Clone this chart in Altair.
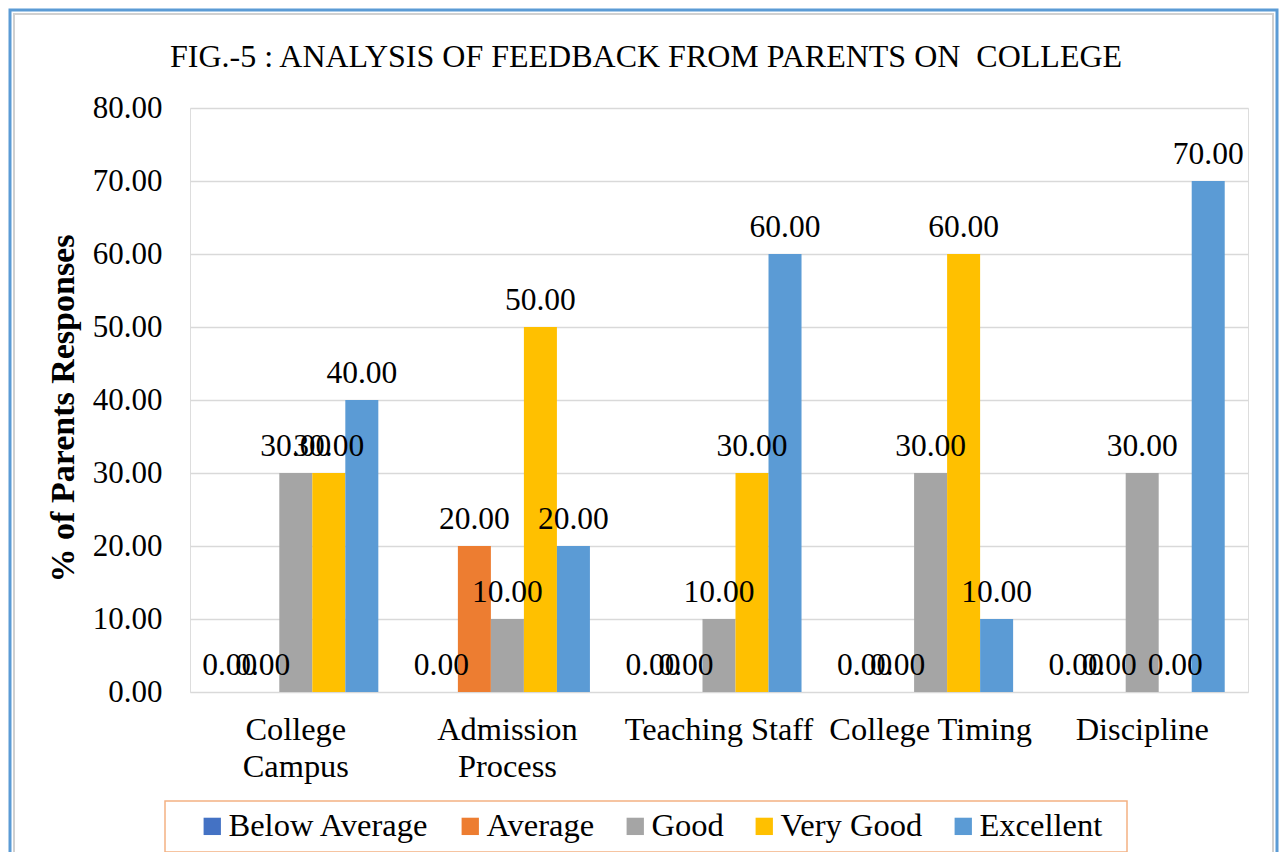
import altair as alt
import pandas as pd

categories = ["College Campus", "Admission Process", "Teaching Staff", "College Timing", "Discipline"]
series = ["Below Average", "Average", "Good", "Very Good", "Excellent"]
below_average = [0, 0, 0, 0, 0]
average = [0, 20, 0, 0, 0]
good = [30, 10, 10, 30, 30]
very_good = [30, 50, 30, 60, 0]
excellent = [40, 20, 60, 10, 70]
colors = ["#4472C4", "#ED7D31", "#A5A5A5", "#FFC000", "#5B9BD5"]
y_ticks = [0, 10, 20, 30, 40, 50, 60, 70, 80]
title_text = "FIG.-5 : ANALYSIS OF FEEDBACK FROM PARENTS ON \u00a0COLLEGE"

rows = []
for name, vals in zip(series, [below_average, average, good, very_good, excellent]):
    for c, v in zip(categories, vals):
        rows.append({"category": c, "series": name, "value": v})
df = pd.DataFrame(rows)

FONT = "Liberation Serif"

x_enc = alt.X(
    "category:N",
    sort=categories,
    scale=alt.Scale(paddingInner=0.22, paddingOuter=0.11),
    axis=alt.Axis(
        title=None,
        labelFont=FONT,
        labelFontSize=32.4,
        labelColor="black",
        labelAngle=0,
        labelPadding=21,
        labelLineHeight=37,
        labelLimit=400,
        labelExpr="datum.label == 'College Campus' ? ['College', 'Campus'] : datum.label == 'Admission Process' ? ['Admission', 'Process'] : datum.label",
        domain=False,
        ticks=False,
        grid=False,
    ),
)
xoff = alt.XOffset("series:N", sort=series, scale=alt.Scale(paddingInner=0, paddingOuter=0))
y_enc = alt.Y(
    "value:Q",
    scale=alt.Scale(domain=[0, 80], nice=False),
    axis=alt.Axis(
        title="% of Parents Responses",
        titleFont=FONT,
        titleFontSize=34,
        titleFontWeight="bold",
        titleColor="black",
        titlePadding=12,
        titleY=300,
        values=y_ticks,
        format=".2f",
        labelFont=FONT,
        labelFontSize=31,
        labelColor="black",
        labelPadding=28,
        domain=False,
        ticks=False,
        grid=True,
        gridColor="#D9D9D9",
        gridWidth=1.5,
    ),
)

bars = alt.Chart(df).mark_bar().encode(
    x=x_enc,
    xOffset=xoff,
    y=y_enc,
    color=alt.Color(
        "series:N",
        sort=series,
        scale=alt.Scale(domain=series, range=colors),
        legend=alt.Legend(
            title=None,
            orient="none",
            legendX=6,
            legendY=702,
            direction="horizontal",
            padding=0,
            columnPadding=24,
            labelFont=FONT,
            labelFontSize=32.5,
            labelColor="black",
            labelOffset=0,
            labelLimit=400,
            symbolType="square",
            symbolSize=300,
            symbolStrokeWidth=0,
        ),
    ),
)

labels = alt.Chart(df).mark_text(
    font=FONT, fontSize=31.5, color="black", baseline="alphabetic", dy=-17
).encode(
    x=alt.X("category:N", sort=categories),
    xOffset=alt.XOffset("series:N", sort=series),
    y="value:Q",
    text=alt.Text("value:Q", format=".2f"),
)

frame_df = pd.DataFrame({"f": [0]})
outer = alt.Chart(frame_df).mark_rect(filled=False, stroke="#5B9BD5", strokeWidth=3).encode(
    x=alt.value(-180), x2=alt.value(1087), y=alt.value(-98), y2=alt.value(900)
)
inner = alt.Chart(frame_df).mark_rect(filled=False, stroke="#D0D0D0", strokeWidth=2).encode(
    x=alt.value(-176), x2=alt.value(1083), y=alt.value(-94), y2=alt.value(900)
)
legend_box = alt.Chart(frame_df).mark_rect(filled=False, stroke="#F4B183", strokeWidth=1.5).encode(
    x=alt.value(-25), x2=alt.value(937), y=alt.value(693), y2=alt.value(744)
)
title = alt.Chart(frame_df).mark_text(
    text=title_text, font=FONT, fontSize=32, color="black", align="center", baseline="alphabetic"
).encode(x=alt.value(456), y=alt.value(-41))

chart = alt.layer(outer, inner, legend_box, title, bars, labels).properties(
    width=1058,
    height=584,
    autosize=alt.AutoSizeParams(type="none"),
    padding={"left": 182, "top": 100, "right": 31, "bottom": 160},
).configure_view(strokeWidth=0).configure(background="white")

chart.save("out.html", embed_options={"renderer": "svg", "actions": False})
